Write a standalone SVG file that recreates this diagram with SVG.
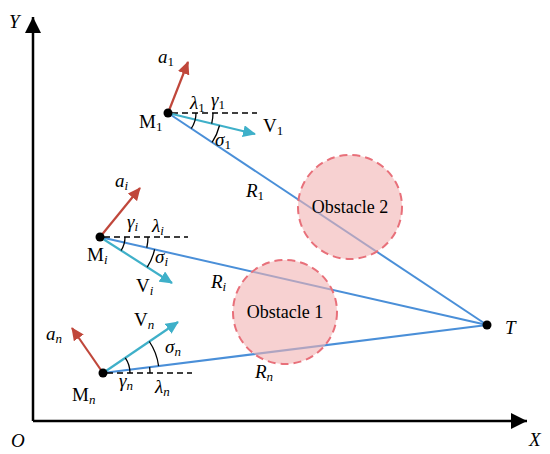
<svg xmlns="http://www.w3.org/2000/svg" width="550" height="454" viewBox="0 0 550 454">
<defs>
<marker id="axh" markerUnits="userSpaceOnUse" markerWidth="18" markerHeight="18" refX="16" refY="8" orient="auto"><path d="M0,0 L16,8 L0,16 z" fill="#000"/></marker>
<marker id="redh" markerUnits="userSpaceOnUse" markerWidth="14" markerHeight="12" refX="12" refY="6" orient="auto"><path d="M0,0 L13,6 L0,12 z" fill="#c0473b"/></marker>
<marker id="tealh" markerUnits="userSpaceOnUse" markerWidth="14" markerHeight="12" refX="12" refY="6" orient="auto"><path d="M0,0 L13,6 L0,12 z" fill="#3fb0c9"/></marker>
</defs>
<style>
text{font-family:"Liberation Serif","Times New Roman",serif;font-size:19px;fill:#000}
.obt{font-size:18px}
.it{font-style:italic}
.sub{font-size:13px}
.axis{stroke:#000;stroke-width:2.5;fill:none}
.los{stroke:#4a8fd8;stroke-width:2;fill:none}
.acc{stroke:#c0473b;stroke-width:2.2;fill:none}
.vel{stroke:#3fb0c9;stroke-width:2.2;fill:none}
.dash{stroke:#000;stroke-width:1.4;stroke-dasharray:6,4;fill:none}
.arc{stroke:#000;stroke-width:1.3;fill:none}
.obs{fill:#f2b3b3;fill-opacity:0.6;stroke:#e8707a;stroke-width:2;stroke-dasharray:8,5}
</style>
<g id="axes">
<path class="axis" d="M33,421 L33,17" marker-end="url(#axh)"/>
<path class="axis" d="M33,421 L527,421" marker-end="url(#axh)"/>
<text class="it" x="9" y="28">Y</text>
<text class="it" x="11" y="447">O</text>
<text class="it" x="529" y="446">X</text>
</g>
<g id="connectors">
<path class="los" d="M168,113 L487,325"/>
<path class="los" d="M100,237 L487,325"/>
<path class="los" d="M103,373 L487,325"/>
</g>
<g id="obstacle2">
<circle class="obs" cx="350" cy="207" r="52"/>
<text class="obt" x="350" y="213" text-anchor="middle">Obstacle 2</text>
</g>
<g id="obstacle1">
<circle class="obs" cx="285" cy="312" r="52"/>
<text class="obt" x="285" y="318" text-anchor="middle">Obstacle 1</text>
</g>
<g id="T">
<circle cx="487" cy="325" r="4.5" fill="#000"/>
<text class="it" x="505" y="334">T</text>
</g>
<g id="M1">
<path class="dash" d="M172,113 L257,113"/>
<path class="acc" d="M168,113 L188,62" marker-end="url(#redh)"/>
<path class="vel" d="M168,113 L255,134" marker-end="url(#tealh)"/>
<path class="arc" d="M196,113 A28,28 0 0 1 191.3,128.5"/>
<path class="arc" d="M213,113 A45,45 0 0 1 211.7,123.6"/>
<path class="arc" d="M219.5,125.5 A53,53 0 0 1 212.1,142.3"/>
<circle cx="168" cy="113" r="4.5" fill="#000"/>
<text x="139" y="128">M<tspan class="sub" dy="3">1</tspan></text>
<text class="it" x="158" y="63">a<tspan class="sub" font-style="normal" dy="3">1</tspan></text>
<text class="it" x="190" y="109">λ<tspan class="sub" font-style="normal" dy="3">1</tspan></text>
<text class="it" x="211" y="106">γ<tspan class="sub" font-style="normal" dy="3">1</tspan></text>
<text x="263" y="132">V<tspan class="sub" dy="3">1</tspan></text>
<text class="it" x="215" y="146">σ<tspan class="sub" font-style="normal" dy="3">1</tspan></text>
<text class="it" x="246" y="197">R<tspan class="sub" font-style="normal" dy="3">1</tspan></text>
</g>
<g id="Mi">
<path class="dash" d="M104,237 L188,237"/>
<path class="acc" d="M100,237 L140,188" marker-end="url(#redh)"/>
<path class="vel" d="M100,237 L172,283" marker-end="url(#tealh)"/>
<path class="arc" d="M125,237 A25,25 0 0 1 121.1,250.5"/>
<path class="arc" d="M148,237 A48,48 0 0 1 146.8,247.6"/>
<path class="arc" d="M154.6,249.4 A56,56 0 0 1 147.2,267.2"/>
<circle cx="100" cy="237" r="4.5" fill="#000"/>
<text x="87" y="261">M<tspan class="sub it" dy="3">i</tspan></text>
<text class="it" x="115" y="187">a<tspan class="sub" dy="3">i</tspan></text>
<text class="it" x="127" y="228">γ<tspan class="sub" dy="3">i</tspan></text>
<text class="it" x="152" y="232">λ<tspan class="sub" dy="3">i</tspan></text>
<text class="it" x="155" y="263">σ<tspan class="sub" dy="3">i</tspan></text>
<text x="136" y="292">V<tspan class="sub it" dy="3">i</tspan></text>
<text class="it" x="211" y="288">R<tspan class="sub" dy="3">i</tspan></text>
</g>
<g id="Mn">
<path class="dash" d="M107,373 L192,373"/>
<path class="acc" d="M103,373 L72,328" marker-end="url(#redh)"/>
<path class="vel" d="M103,373 L178,322" marker-end="url(#tealh)"/>
<path class="arc" d="M130,373 A27,27 0 0 0 125.3,357.8"/>
<path class="arc" d="M150,373 A47,47 0 0 0 149.6,367.2"/>
<path class="arc" d="M158.6,366.1 A56,56 0 0 0 149.3,341.5"/>
<circle cx="103" cy="373" r="4.5" fill="#000"/>
<text x="72" y="401">M<tspan class="sub it" dy="3">n</tspan></text>
<text class="it" x="46" y="340">a<tspan class="sub" dy="3">n</tspan></text>
<text x="134" y="326">V<tspan class="sub it" dy="3">n</tspan></text>
<text class="it" x="165" y="353">σ<tspan class="sub" dy="3">n</tspan></text>
<text class="it" x="119" y="387">γ<tspan class="sub" dy="3">n</tspan></text>
<text class="it" x="155" y="393">λ<tspan class="sub" dy="3">n</tspan></text>
<text class="it" x="255" y="378">R<tspan class="sub" dy="3">n</tspan></text>
</g>
</svg>
